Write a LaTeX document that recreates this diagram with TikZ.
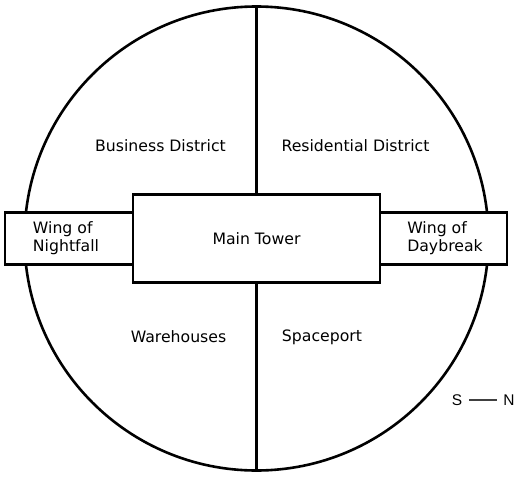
\documentclass[tikz,border=0pt]{standalone}
\usepackage{fontspec}
\setmainfont{DejaVu Sans}
\newfontfamily\arialfont{Liberation Sans}
\begin{document}
\begin{tikzpicture}[x=1pt,y=-1pt,
  wall/.style={draw=black,line width=2.6pt},
  lbl/.style={font=\fontsize{15.7}{18}\selectfont,text=black,align=center}]
\useasboundingbox (0,0) rectangle (528,479);
\fill[white] (0,0) rectangle (528,479);
\draw[wall] (256.5,238.5) circle (232);
\coordinate (top) at (256.5,6.5);
\coordinate (bot) at (256.5,470.5);
\node[wall,fill=white,minimum width=128pt,minimum height=52pt,inner sep=0pt] (wl) at (69,238.5) {};
\node[wall,fill=white,minimum width=127pt,minimum height=52pt,inner sep=0pt] (wr) at (443.5,238.5) {};
\node[wall,fill=white,minimum width=247pt,minimum height=88pt,inner sep=0pt] (mt) at (256.5,238.5) {};
\draw[wall] (top) -- (mt.north);
\draw[wall] (mt.south) -- (bot);
\node[lbl] at (mt.center) {Main Tower};
\node[lbl,align=left] at (66,238.5) {Wing of\\Nightfall};
\node[lbl,align=left] at (445,238.5) {Wing of\\Daybreak};
\node[lbl] (bd) at (160.5,146) {Business District};
\node[lbl] (rd) at (355.5,146) {Residential District};
\node[lbl] (wh) at (178.5,337) {Warehouses};
\node[lbl] (sp) at (322,337) {Spaceport};
\node[font=\arialfont\fontsize{15.5}{17}\selectfont,inner sep=0pt] (s) at (457,400) {S};
\node[font=\arialfont\fontsize{15.5}{17}\selectfont,inner sep=0pt] (n) at (509,400) {N};
\draw[black!75,line width=1.3pt] (469,400) -- (497,400);
\end{tikzpicture}
\end{document}
